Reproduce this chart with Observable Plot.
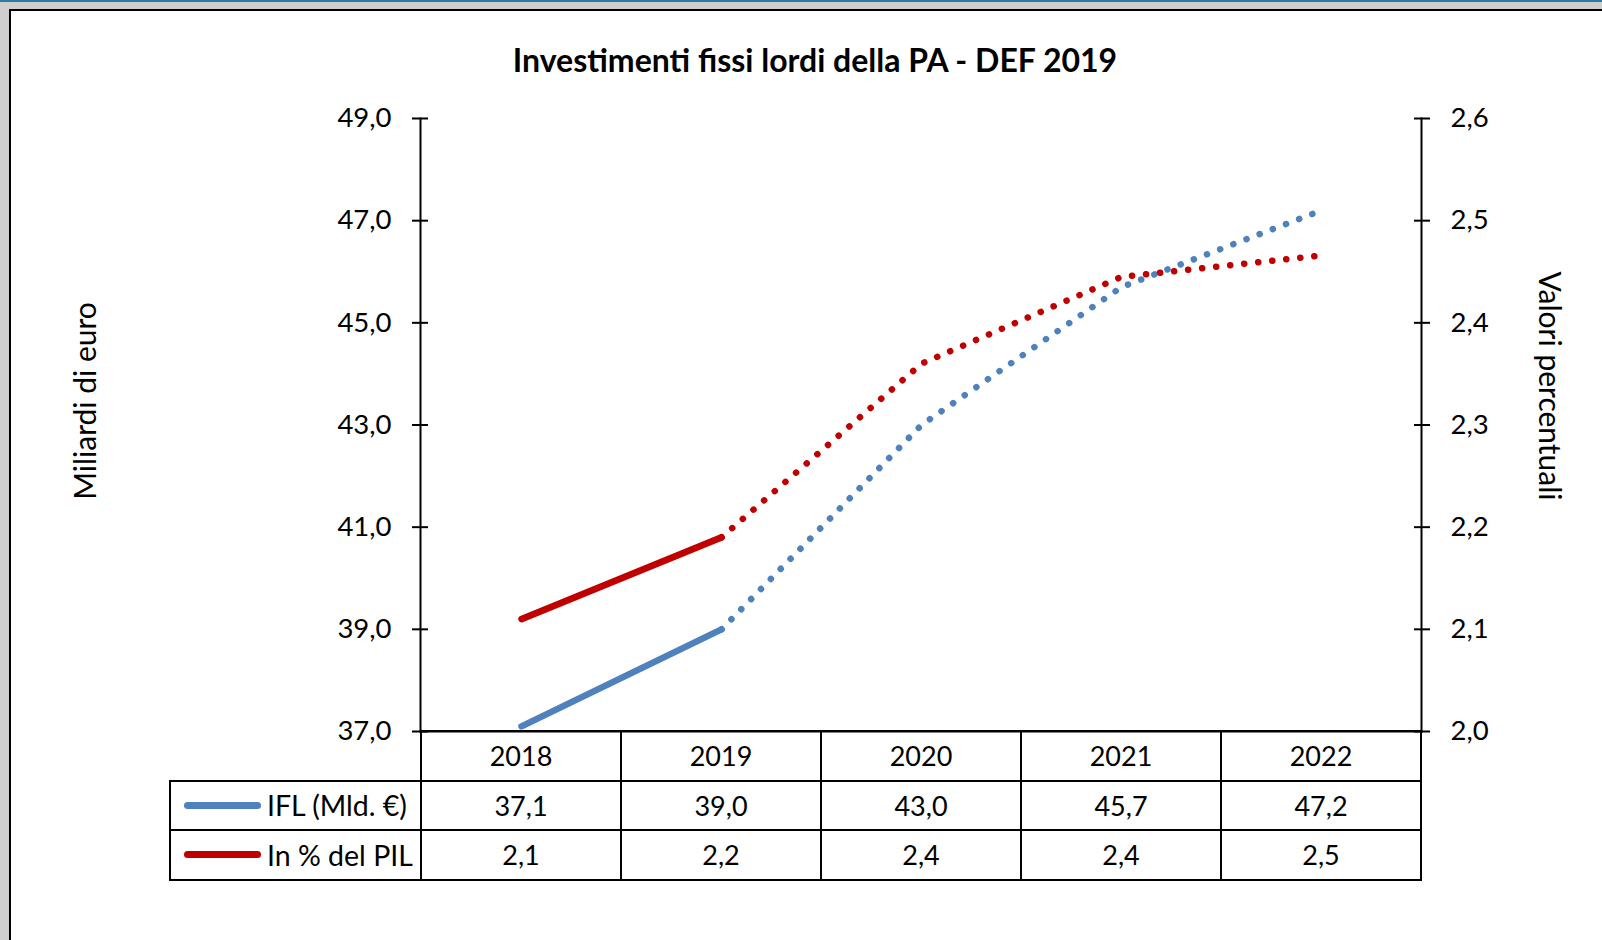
<!DOCTYPE html>
<html>
<head>
<meta charset="utf-8">
<script src="https://cdn.jsdelivr.net/npm/d3@7"></script>
<script src="https://cdn.jsdelivr.net/npm/@observablehq/plot@0.6"></script>
<style>
  html, body { margin:0; padding:0; }
  body { width:1602px; height:940px; overflow:hidden; background:#cfcfcf; font-family: Lato, "Open Sans", sans-serif; }
  #topbar { position:absolute; left:0; top:0; width:1602px; height:2px; background:#2b7aa6; }
  #frame { position:absolute; left:9px; top:9px; width:1640px; height:1000px; border:2px solid #000; background:#fff; box-sizing:border-box; }
  #chart { position:absolute; left:0; top:0; }
  #title { position:absolute; left:0; top:40px; width:1630px; text-align:center; font-weight:bold; font-size:32px; line-height:40px; color:#000; }
  .ytitle { position:absolute; font-size:30px; line-height:34px; white-space:nowrap; color:#000; }
  .cell { position:absolute; box-sizing:border-box; display:flex; align-items:center; justify-content:center; font-size:27px; color:#000; }
  .hl { position:absolute; background:#000; }
  .swatch { position:absolute; height:7px; border-radius:4px; }
  .lbl { position:absolute; font-size:28.5px; line-height:32px; color:#000; white-space:nowrap; }
</style>
</head>
<body>
<div id="topbar"></div>
<div id="frame"></div>
<div id="title">Investimenti fissi lordi della PA - DEF 2019</div>
<div id="chart"></div>
<div id="table"></div>
<script>
const years = ["2018", "2019", "2020", "2021", "2022"];
const iflValues = [37.1, 39.0, 43.0, 45.7, 47.2];
const pilValues = [2.11, 2.19, 2.36, 2.445, 2.466];
const leftTicks = [37, 39, 41, 43, 45, 47, 49];
const rightTicks = [2.0, 2.1, 2.2, 2.3, 2.4, 2.5, 2.6];
const seriesNames = ["IFL (Mld. €)", "In % del PIL"];
const seriesColors = ["#4f81bd", "#c00000"];
const leftTitle = "Miliardi di euro";
const rightTitle = "Valori percentuali";

const fmt = v => v.toFixed(1).replace(".", ",");
// map right-axis (percent) values onto the left scale
const toLeft = p => 37 + (p - 2.0) * 20;

const rows = [];
years.forEach((y, i) => {
  rows.push({year: y, v: iflValues[i], s: seriesNames[0], i});
  rows.push({year: y, v: toLeft(pilValues[i]), s: seriesNames[1], i});
});
const solid = rows.filter(d => d.i <= 1);
const dotted = rows.filter(d => d.i >= 1);

const chart = Plot.plot({
  width: 1602,
  height: 760,
  marginLeft: 420,
  marginRight: 181,
  marginTop: 118,
  marginBottom: 29,
  x: {type: "point", domain: years, padding: 0.5, axis: null},
  y: {domain: [37, 49], axis: null},
  color: {domain: seriesNames, range: seriesColors},
  style: {fontFamily: "Lato, 'Open Sans', sans-serif", fontSize: "27px", color: "#000", background: "transparent", overflow: "visible"},
  marks: [
    Plot.axisY(leftTicks, {anchor: "left", tickSize: 8, tickPadding: 21, tickFormat: fmt, label: null, strokeWidth: 2, fontSize: 27.5}),
    Plot.axisY(leftTicks, {anchor: "left", tickSize: -8, tickFormat: () => "", label: null, strokeWidth: 2}),
    Plot.axisY(rightTicks.map(toLeft), {anchor: "right", tickSize: 8, tickPadding: 21, tickFormat: d => fmt((d - 37) / 20 + 2), label: null, strokeWidth: 2, fontSize: 27.5}),
    Plot.axisY(rightTicks.map(toLeft), {anchor: "right", tickSize: -8, tickFormat: () => "", label: null, strokeWidth: 2}),
    Plot.frame({anchor: "left", strokeWidth: 2}),
    Plot.frame({anchor: "right", strokeWidth: 2}),
    Plot.frame({anchor: "bottom", strokeWidth: 2}),
    Plot.line(solid, {x: "year", y: "v", z: "s", stroke: "s", strokeWidth: 6.5, strokeLinecap: "round"}),
    Plot.line(dotted, {x: "year", y: "v", z: "s", stroke: "s", strokeWidth: 6.5, strokeLinecap: "round", strokeDasharray: "0.1 14"})
  ]
});
document.getElementById("chart").appendChild(chart);

// axis titles
const sx = chart.scale("x");
const sy = chart.scale("y");
const lt = document.createElement("div");
lt.className = "ytitle"; lt.textContent = leftTitle;
document.body.appendChild(lt);
lt.style.left = (84 - lt.offsetWidth / 2) + "px";
lt.style.top = (401 - lt.offsetHeight / 2) + "px";
lt.style.transform = "rotate(-90deg)";
const rt = document.createElement("div");
rt.className = "ytitle"; rt.textContent = rightTitle;
document.body.appendChild(rt);
rt.style.left = (1551 - rt.offsetWidth / 2) + "px";
rt.style.top = (386 - rt.offsetHeight / 2) + "px";
rt.style.transform = "rotate(90deg)";

// data table below the chart, columns from the x scale
const table = document.getElementById("table");
const step = sx.apply(years[1]) - sx.apply(years[0]);
const x0 = sx.apply(years[0]) - step / 2;
const x1 = sx.apply(years[years.length - 1]) + step / 2;
const top0 = sy.apply(37);
const rowH = 49.5;
const leftX = 170;
function line(x, y, w, h) {
  const d = document.createElement("div");
  d.className = "hl";
  d.style.left = x + "px"; d.style.top = y + "px"; d.style.width = w + "px"; d.style.height = h + "px";
  table.appendChild(d);
}
function cell(x, y, w, h, text) {
  const d = document.createElement("div");
  d.className = "cell";
  d.style.left = x + "px"; d.style.top = y + "px"; d.style.width = w + "px"; d.style.height = h + "px";
  d.textContent = text;
  table.appendChild(d);
}
years.forEach((yr, i) => {
  const cx = sx.apply(yr) - step / 2;
  cell(cx, top0, step, rowH, yr);
  cell(cx, top0 + rowH, step, rowH, fmt(iflValues[i]));
  cell(cx, top0 + 2 * rowH, step, rowH, fmt(Math.round(pilValues[i] * 10) / 10));
});
// horizontal lines
line(x0 - 1, top0 - 1, x1 - x0 + 2, 2);
line(leftX - 1, top0 + rowH - 1, x1 - leftX + 2, 2);
line(leftX - 1, top0 + 2 * rowH - 1, x1 - leftX + 2, 2);
line(leftX - 1, top0 + 3 * rowH - 1, x1 - leftX + 2, 2);
// vertical lines
years.forEach((yr, i) => line(sx.apply(yr) - step / 2 - 1, top0 - 1, 2, 3 * rowH + 1));
line(x1 - 1, top0 - 1, 2, 3 * rowH + 1);
line(leftX - 1, top0 + rowH - 1, 2, 2 * rowH + 1);
// legend rows
seriesNames.forEach((name, k) => {
  const yc = top0 + rowH * (k + 1.5);
  const sw = document.createElement("div");
  sw.className = "swatch";
  sw.style.left = "184px"; sw.style.width = "77px"; sw.style.top = (yc - 3.5) + "px";
  sw.style.background = seriesColors[k];
  table.appendChild(sw);
  const l = document.createElement("div");
  l.className = "lbl"; l.textContent = name;
  l.style.left = "267px"; l.style.top = (yc - 16) + "px";
  table.appendChild(l);
});
</script>
</body>
</html>
